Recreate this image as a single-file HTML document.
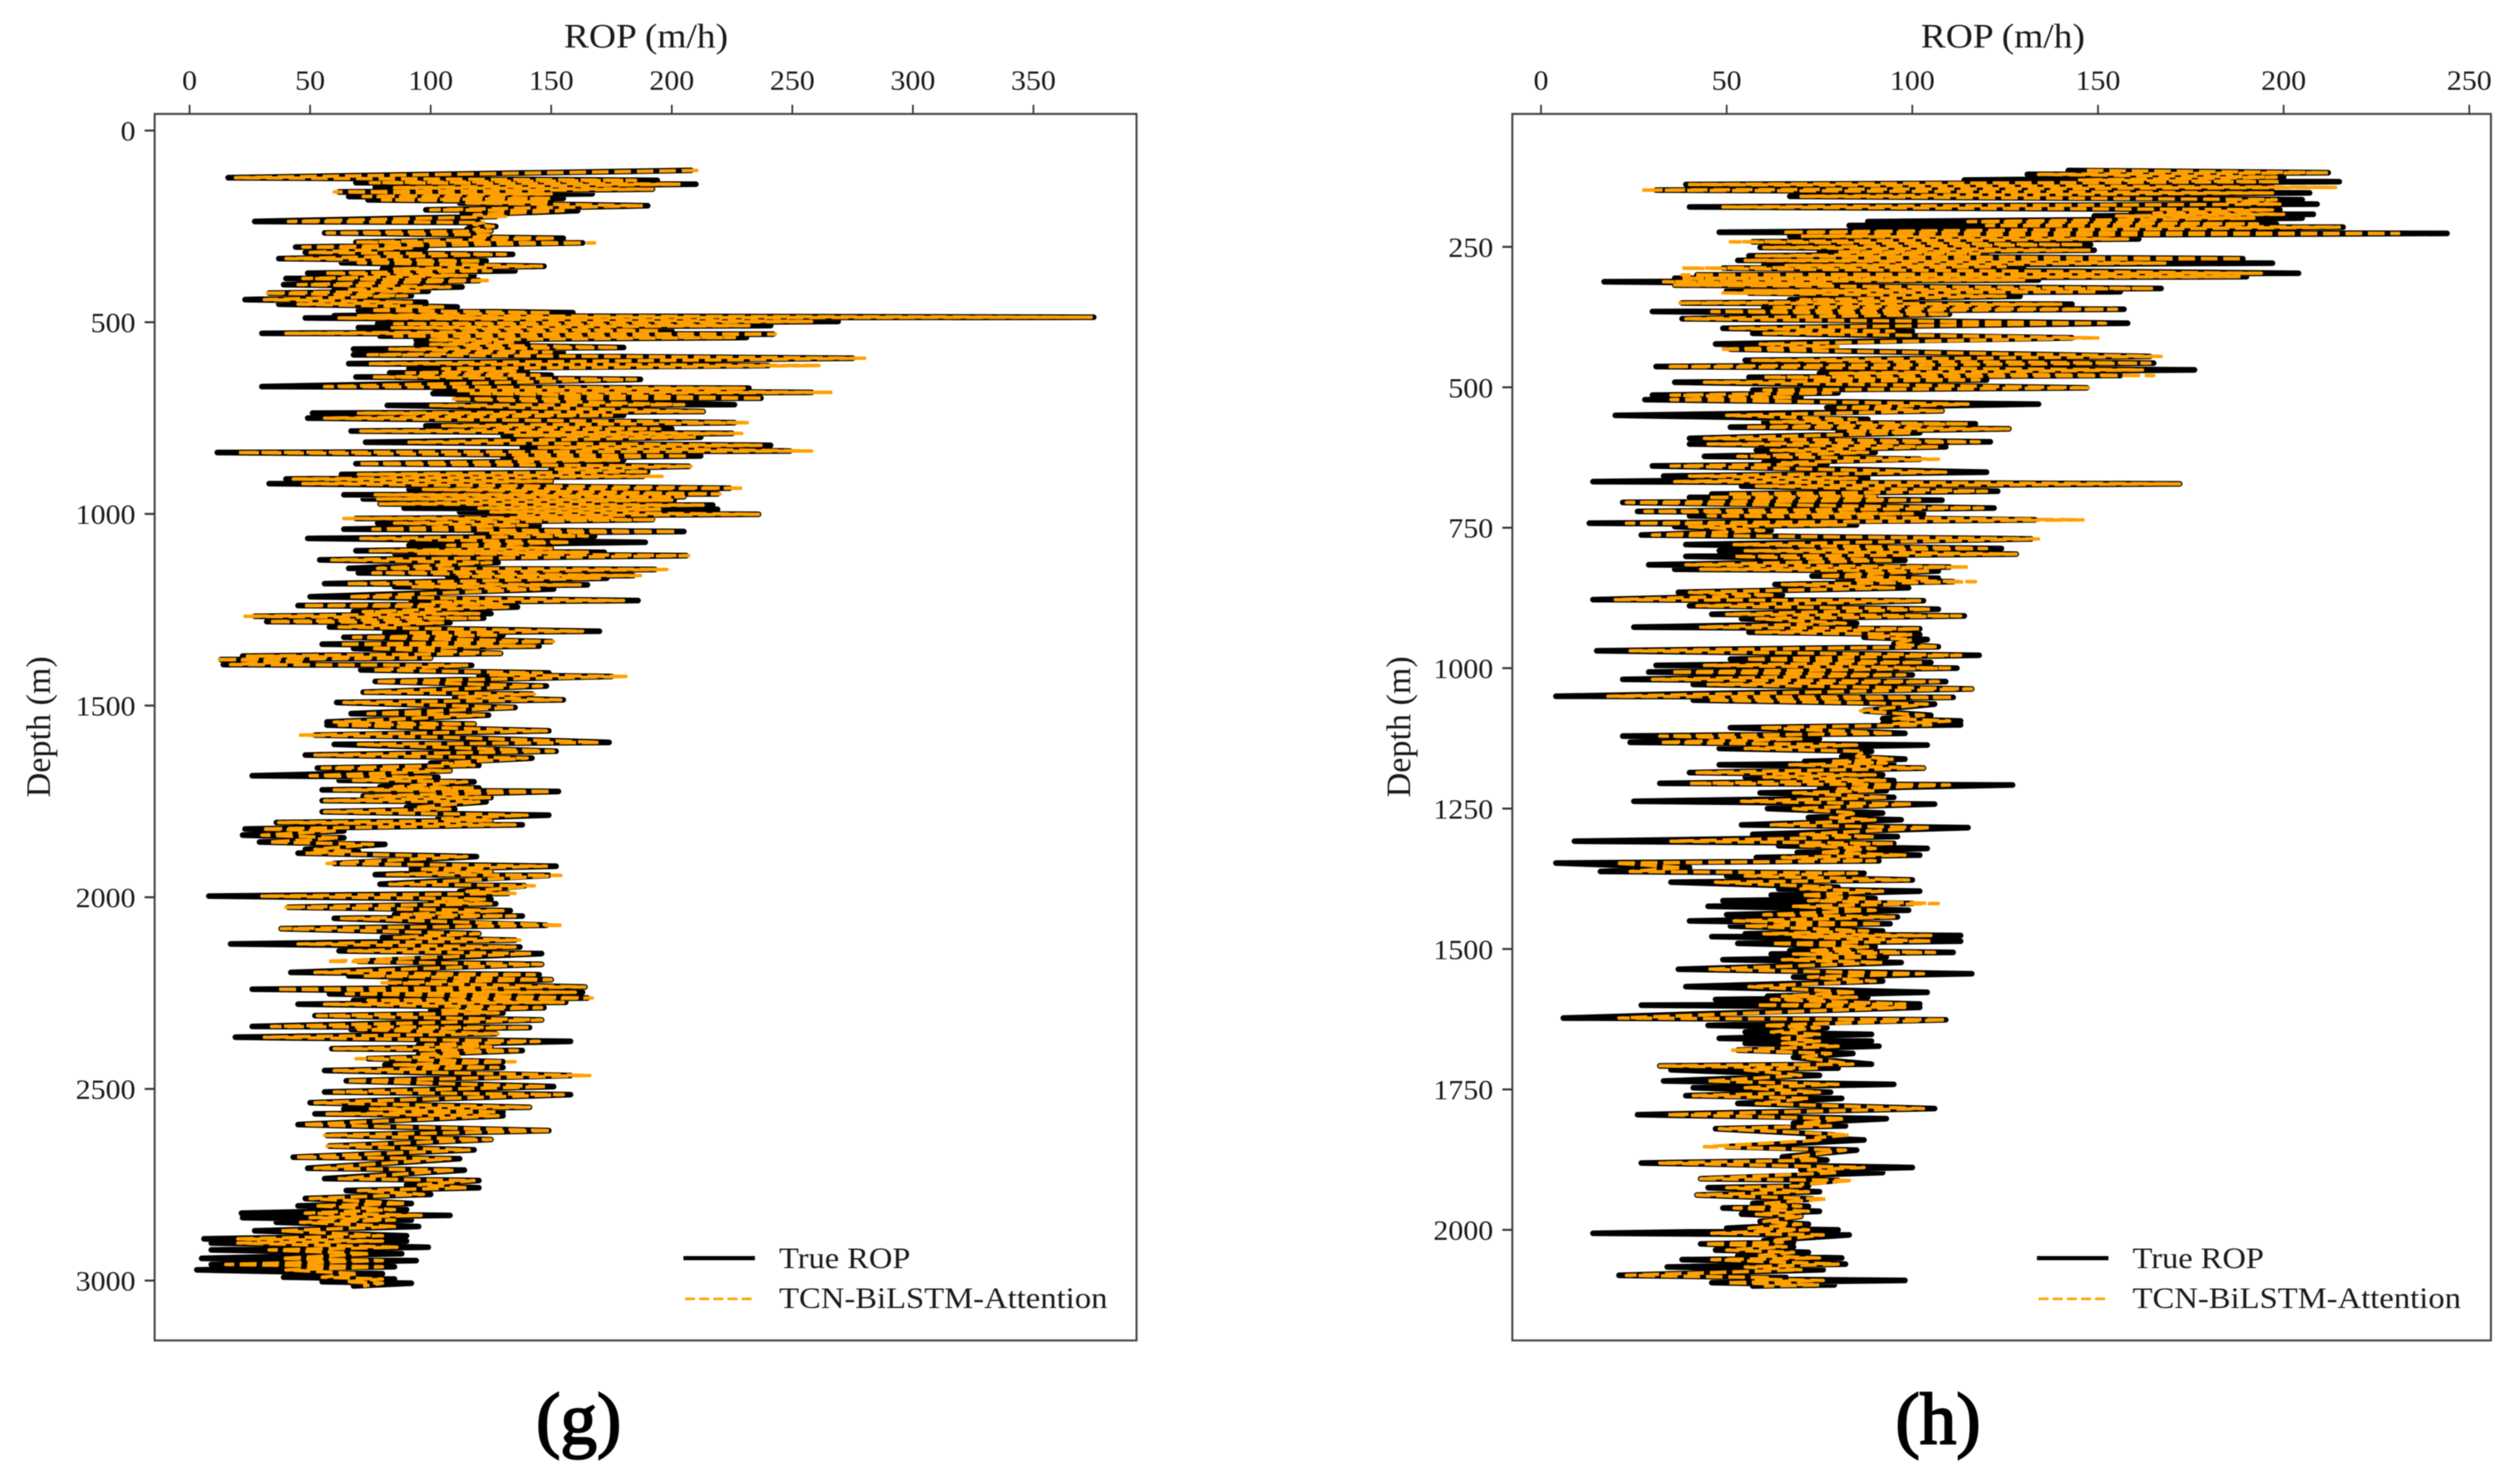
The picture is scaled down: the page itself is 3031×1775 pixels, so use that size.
<!DOCTYPE html>
<html lang="en">
<head>
<meta charset="utf-8">
<title>True ROP vs TCN-BiLSTM-Attention</title>
<style>
html,body{margin:0;padding:0;background:#fff;width:3031px;height:1775px;overflow:hidden}
svg{display:block;filter:blur(0.6px)}
text{font-family:"Liberation Serif",serif;fill:#1a1a1a}
</style>
</head>
<body>
<svg id="figure" xmlns="http://www.w3.org/2000/svg" width="3031" height="1775" viewBox="0 0 3031 1775">
<rect width="3031" height="1775" fill="#fff"/>
<g id="panel-g"></g>
<g id="panel-h"></g>
</svg>
<script>
const xTicksG = [0,50,100,150,200,250,300,350];
const yTicksG = [0,500,1000,1500,2000,2500,3000];
const xTicksH = [0,50,100,150,200,250];
const yTicksH = [250,500,750,1000,1250,1500,1750,2000];

const depthG = [
104,123,130,136,140,149,153,160,165,172,
177,181,185,189,196,207,209,220,224,237,
240,245,250,258,262,267,272,278,281,291,
293,304,306,318,323,334,340,345,354,361,
366,372,378,386,391,402,408,415,419,424,
431,441,448,453,460,469,475,483,487,489,
498,504,509,514,522,529,531,536,540,546,
552,558,566,570,578,585,594,608,613,621,
628,632,638,643,649,668,672,678,683,686,
698,700,715,717,733,737,743,750,762,770,
778,784,790,795,800,813,821,827,836,840,
849,855,860,869,876,883,890,897,902,909,
915,921,933,936,948,950,955,961,964,974,
977,985,988,995,1001,1005,1009,1012,1015,1024,
1030,1040,1046,1050,1058,1064,1074,1082,1090,1096,
1100,1103,1109,1120,1127,1142,1145,1154,1161,1163,
1168,1182,1185,1190,1196,1216,1226,1230,1235,1239,
1243,1255,1260,1267,1272,1281,1284,1295,1306,1310,
1316,1322,1333,1340,1345,1351,1364,1371,1376,1380,
1384,1393,1395,1407,1415,1420,1424,1437,1449,1465,
1470,1478,1485,1492,1505,1521,1525,1543,1548,1551,
1566,1577,1583,1596,1601,1619,1629,1637,1650,1656,
1663,1670,1683,1687,1695,1699,1712,1715,1720,1724,
1736,1740,1748,1751,1765,1770,1777,1786,1795,1800,
1805,1811,1822,1827,1838,1845,1856,1862,1875,1880,
1885,1894,1912,1919,1927,1933,1941,1943,1966,1970,
1985,1990,1997,2005,2012,2017,2026,2035,2045,2049,
2055,2073,2082,2095,2105,2112,2122,2130,2140,2147,
2167,2175,2196,2202,2205,2215,2223,2234,2240,2248,
2252,2263,2269,2274,2279,2288,2295,2302,2309,2320,
2337,2340,2345,2356,2365,2376,2385,2390,2395,2400,
2410,2415,2421,2429,2437,2444,2452,2465,2479,2494,
2508,2515,2536,2548,2552,2560,2565,2570,2593,2609,
2621,2632,2649,2659,2678,2682,2707,2712,2734,2739,
2750,2758,2765,2775,2786,2799,2805,2815,2824,2830,
2836,2842,2848,2859,2870,2883,2891,2897,2902,2913,
2920,2930,2942,2948,2958,2964,2972,2982,2991,2996,
3003,3007,3014];
const trueG = [
208,16,194,69,210,77,192,62,167,66,
155,74,150,112,190,98,161,113,127,27,
120,116,127,115,125,56,122,116,155,69,
163,44,98,48,134,37,123,63,147,80,
135,49,118,40,120,39,113,60,99,33,
92,23,98,37,111,70,159,60,375,48,
269,78,241,70,200,30,242,79,231,94,
140,94,180,68,155,68,275,66,240,91,
140,83,150,69,187,30,232,102,258,101,
237,111,226,82,213,51,180,49,226,98,
200,67,225,130,212,73,241,138,249,11.5,
212,130,180,69,207,150,190,63,188,40,
150,33,224,91,219,64,205,72,201,79,
217,89,219,112,236,129,180,69,192,78,
145,64,205,119,168,49,189,91,150,69,
172,85,206,54,128,66,193,70,184,107,
173,56,165,85,151,50,186,92,135,45,
136,68,125,27,122,32,108,58,170,81,
130,64,150,55,145,68,129,22,100,13,
51,14,117,71,149,120,175,77,148,72,
142,110,155,61,135,67,124,57,118,57,
149,52,106,174,60,152,48,142,100,120,
53,108,26,103,62,118,79,120,55,153,
72,125,55,123,90,110,55,149,103,125,
36,138,23,64,22,64,29,81,48,70,
45,119,60,152,92,125,77,149,79,139,
112,132,8,125,100,127,41,133,85,138,
60,148,38,120,80,135,17,137,62,146,
70,146,42,145,66,150,83,164,26,163,
58,165,68,156,45,147,100,130,52,146,
26,141,67,127,19,158,95,125,59,138,
95,110,74,130,81,130,56,158,65,151,
56,158,50,141,64,130,52,130,45,149,
57,125,58,118,43,112,49,114,56,120,
90,120,65,100,48,92,45,90,21.5,108,
22,92,36,95,27,90,6,90,9,99,
9,88,5,94,9,85,3,80,39,85,
55,92,68];
const predG = [
211,19,185,75,203,85,192,60,150,72,
150,80,148,115,188,100,155,118,131,41,
122,118,126,118,125,57,124,118,152,69,
168,47,92,50,131,40,121,70,146,85,
125,56,115,47,125,45,108,65,95,31,
90,31,92,45,105,75,150,70,374,62,
258,85,232,84,195,40,243,85,226,100,
135,100,178,83,150,74,280,75,261,105,
135,90,145,76,185,56,230,110,266,116,
238,108,205,100,213,70,175,56,232,105,
195,71,229,135,210,91,237,145,258,20,
207,135,178,70,208,152,190,70,196,43,
150,47,230,97,220,77,205,78,200,79,
213,120,195,125,236,135,175,64,193,85,
140,76,202,125,165,71,158,107,150,75,
165,95,207,59,125,78,198,76,187,112,
170,65,162,92,145,66,180,100,130,47,
132,72,120,23,120,33,105,62,163,90,
128,68,151,62,143,75,130,24,100,11,
48,17,115,76,146,125,181,77,146,73,
143,112,154,64,135,74,122,60,118,62,
148,46,108,170,70,151,52,140,105,118,
55,108,50,100,68,115,85,118,60,150,
73,125,56,120,95,108,56,140,105,125,
37,135,30,60,30,62,33,76,52,68,
48,115,57,148,95,125,82,154,83,143,
115,135,30,123,102,125,39,130,88,135,
63,155,38,120,85,137,45,135,66,142,
57,146,52,143,72,150,79,164,36,160,
65,167,74,155,56,146,105,128,53,146,
34,141,70,128,31,145,98,125,60,136,
95,112,69,135,85,128,60,166,65,148,
60,155,52,141,75,128,57,128,47,150,
56,125,57,116,44,108,52,110,62,118,
95,115,70,97,50,90,52,85,48,96,
50,85,46,85,38,80,20,80,20,86,
33,75,38,80,15,80,40,70,55,80,
65,80,72];

const depthH = [
114,118,121,126,131,134,139,144,149,154,
160,166,170,174,179,184,190,192,195,199,
205,209,212,215,224,226,231,236,241,246,
251,256,259,262,266,271,274,279,283,285,
288,297,300,303,306,309,312,316,318,324,
328,330,332,338,344,347,350,352,358,361,
365,370,378,386,395,400,404,412,423,428,
432,445,452,457,463,469,475,479,482,487,
491,501,505,510,514,518,522,530,536,542,
550,557,562,565,571,574,578,581,591,597,
601,606,612,616,623,628,634,637,640,651,
658,662,668,672,676,685,690,694,696,701,
705,715,721,725,729,736,742,745,748,755,
763,770,780,787,791,797,801,808,816,820,
824,827,836,840,843,846,851,857,865,870,
878,880,889,895,904,907,912,920,927,930,
936,940,945,949,957,962,969,977,984,990,
995,1000,1007,1012,1020,1024,1029,1037,1050,1052,
1057,1064,1076,1084,1090,1094,1099,1101,1106,1116,
1121,1126,1132,1137,1143,1148,1157,1162,1166,1169,
1172,1178,1186,1190,1194,1200,1205,1208,1215,1218,
1222,1230,1237,1242,1250,1258,1266,1270,1279,1284,
1296,1300,1308,1312,1316,1321,1328,1333,1337,1343,
1347,1355,1362,1365,1370,1377,1381,1390,1393,1397,
1404,1410,1414,1419,1424,1431,1439,1443,1450,1455,
1459,1468,1473,1476,1478,1486,1490,1496,1503,1506,
1509,1514,1519,1524,1536,1544,1550,1557,1567,1577,
1584,1586,1590,1598,1600,1604,1623,1626,1636,1640,
1648,1652,1659,1664,1668,1673,1680,1686,1693,1705,
1708,1712,1715,1725,1735,1741,1747,1755,1761,1766,
1775,1784,1795,1802,1810,1815,1820,1831,1836,1840,
1852,1858,1870,1876,1881,1889,1893,1898,1909,1912,
1919,1922,1925,1932,1938,1945,1953,1958,1961,1967,
1972,1976,1985,1990,1997,2000,2006,2009,2019,2022,
2025,2030,2036,2040,2046,2050,2053,2061,2066,2071,
2081,2085,2088,2090,2094,2098,2100];
const trueH = [
142,212,131,200,114,215,39,197,31,207,
67,205,180,209,40,199,159,208,149,205,
88,198,83,216,48,244,67,161,57,148,
59,149,75,120,56,189,53,197,60,130,
49,204,42,190,36,134,17,80,36,167,
50,156,56,129,67,100,38,143,60,157,
30,110,38,158,49,100,57,143,47,78,
51,164,55,165,31,176,75,156,56,120,
36,147,57,80,30,70,28,134,77,108,
20,88,60,117,51,126,80,102,40,121,
40,109,58,90,44,102,60,77,30,120,
33,88,14,172,54,123,46,90,40,108,
22,122,26,103,40,133,13,85,36,62,
27,132,39,124,48,128,39,98,29,110,
36,107,73,107,80,111,63,99,37,65,
14,103,40,107,46,114,54,85,25,102,
56,102,87,104,95,107,15,118,51,105,
31,112,29,100,22,109,41,116,4,111,
41,106,87,105,92,113,92,113,51,98,
22,75,24,104,48,89,81,98,71,95,
48,103,40,92,55,95,32,127,75,93,
59,95,25,106,61,92,72,97,54,115,
57,96,9,95,64,104,69,102,58,91,
4,40,16,87,50,100,35,80,64,102,
62,90,49,100,45,99,50,96,40,94,
51,92,55,113,46,113,53,90,67,111,
62,93,49,97,37,116,68,92,39,104,
61,88,47,102,27,102,6,109,45,77,
55,89,48,89,55,91,53,84,68,89,
32,80,35,75,33,95,41,78,39,81,
53,106,26,93,68,82,47,79,72,87,
50,85,65,77,27,100,70,92,43,80,
68,72,45,75,42,73,57,72,49,75,
54,70,59,72,50,80,14,83,60,68,
43,68,47,72,53,81,38,82,34,76,
21,66,55,98,46,79,57];
const predH = [
147,212,134,198,145,199,40,214,27,197,
70,198,185,199,49,197,165,200,155,192,
115,193,120,215,65,231,70,158,51,146,
60,148,80,118,58,189,55,168,66,125,
38,194,38,188,38,130,33,78,36,165,
55,150,49,125,70,98,37,140,62,155,
46,110,39,152,51,95,60,150,59,80,
48,167,57,164,34,162,78,165,60,118,
44,148,60,78,35,68,35,115,80,108,
50,85,62,115,55,126,82,100,44,118,
45,107,62,88,53,107,65,75,35,109,
40,85,36,172,58,120,50,90,45,102,
23,119,28,100,45,146,23,82,40,60,
30,134,52,120,55,128,52,95,39,115,
43,105,75,105,85,117,65,95,40,63,
20,102,42,105,50,113,58,82,43,102,
58,100,88,100,95,107,24,113,55,103,
44,110,35,98,30,107,45,116,18,111,
45,104,86,103,95,110,95,105,59,95,
32,70,32,85,55,87,85,95,78,93,
67,103,42,90,60,93,40,110,80,90,
68,93,54,100,68,85,78,90,62,105,
70,90,35,95,70,90,75,98,65,90,
20,38,24,85,55,99,47,78,70,92,
70,88,72,107,68,90,60,95,52,92,
55,88,60,105,68,105,62,88,72,106,
68,90,65,92,45,103,72,90,56,85,
65,85,62,98,58,98,21,109,60,75,
62,75,65,75,65,80,51,78,70,84,
32,75,55,70,45,80,55,75,41,72,
58,103,34,82,70,78,48,83,74,76,
44,82,68,75,32,87,72,80,43,84,
70,70,50,72,42,77,60,70,52,72,
58,70,60,70,56,72,46,76,62,65,
44,66,50,68,58,75,46,80,55,70,
23,62,58,76,50,75,60];

const SVGNS = 'http://www.w3.org/2000/svg';
function make(tag, parent, attrs, txt){
  const el = document.createElementNS(SVGNS, tag);
  for (const k in attrs) el.setAttribute(k, attrs[k]);
  if (txt !== undefined) el.textContent = txt;
  parent.appendChild(el);
  return el;
}
function linePath(depths, vals, xs, ys){
  let d = '';
  for (let i = 0; i < depths.length; i++){
    const v = vals[i] === undefined ? vals[vals.length-1] : vals[i];
    d += (i ? 'L' : 'M') + xs(v).toFixed(1) + ' ' + ys(depths[i]).toFixed(1);
  }
  return d;
}
function drawPanel(cfg){
  const g = document.getElementById(cfg.id);
  const [L,T,R,B] = cfg.box;

  const frame = make('rect', g, {x:L,y:T,width:R-L,height:B-T,fill:'#fff',stroke:'#444','stroke-width':2.4});
  
  

  const trueLine = make('path', g, {d:linePath(cfg.depth,cfg.trueV,cfg.x,cfg.y),fill:'none',stroke:'#000','stroke-width':6.8,'stroke-linejoin':'round','stroke-linecap':'round'});
  
  

  const predLine = make('path', g, {d:linePath(cfg.depth,cfg.predV,cfg.x,cfg.y),fill:'none',stroke:'#ffa000','stroke-width':4.2,'stroke-dasharray':'20 7','stroke-linejoin':'round'});
  
  

  cfg.xTicks.forEach(function(t){
    const px = cfg.x(t);
    const tick = make('line', g, {x1:px,x2:px,y1:T-11,y2:T,stroke:'#333','stroke-width':2});
    
    
    const lab = make('text', g, {transform:'translate('+px+',108) scale(1.06,1)','text-anchor':'middle','font-size':34}, String(t));
    
    
  });
  cfg.yTicks.forEach(function(t){
    const py = cfg.y(t);
    const tick = make('line', g, {x1:L-12,x2:L,y1:py,y2:py,stroke:'#333','stroke-width':2.4});
    
    
    const lab = make('text', g, {transform:'translate('+(L-23)+','+(py+12)+') scale(1.06,1)','text-anchor':'end','font-size':34}, String(t));
    
    
  });

  const xTitle = make('text', g, {transform:'translate('+cfg.xTitleX+',57) scale(1.1,1)','text-anchor':'middle','font-size':41}, 'ROP (m/h)');
  
  

  const yTitle = make('text', g, {transform:'translate('+cfg.yTitleX+',874) rotate(-90)','text-anchor':'middle','font-size':41}, 'Depth (m)');
  
  

  const lx = cfg.legendX;
  const s1 = make('line', g, {x1:lx,x2:lx+86,y1:1513,y2:1513,stroke:'#000','stroke-width':5});
  
  
  const t1 = make('text', g, {x:lx+115,y:1525,'font-size':36,textLength:158,lengthAdjust:'spacingAndGlyphs'}, 'True ROP');
  
  
  const s2 = make('line', g, {x1:lx+2,x2:lx+84,y1:1562,y2:1562,stroke:'#ffa500','stroke-width':3,'stroke-dasharray':'12 5'});
  
  
  const t2 = make('text', g, {x:lx+115,y:1573,'font-size':36,textLength:395,lengthAdjust:'spacingAndGlyphs'}, 'TCN-BiLSTM-Attention');
  
  

  const cap = make('text', g, {x:cfg.capX,y:1736,'text-anchor':'middle','font-size':88,style:'fill:#000',stroke:'#000','stroke-width':2.2}, cfg.caption);
  
  
}

drawPanel({
  id:'panel-g', box:[186,137,1367,1612],
  x:function(v){return 228+v*2.9;}, y:function(d){return 157+d*0.461;},
  depth:depthG, trueV:trueG, predV:predG, xTicks:xTicksG, yTicks:yTicksG,
  xTitleX:777, yTitleX:60, legendX:822, capX:696, caption:'(g)'
});
drawPanel({
  id:'panel-h', box:[1819,137,2996,1612],
  x:function(v){return 1853.5+v*4.466;}, y:function(d){return 128+d*0.6755;},
  depth:depthH, trueV:trueH, predV:predH, xTicks:xTicksH, yTicks:yTicksH,
  xTitleX:2409, yTitleX:1696, legendX:2450, capX:2331, caption:'(h)'
});
</script>
</body>
</html>
